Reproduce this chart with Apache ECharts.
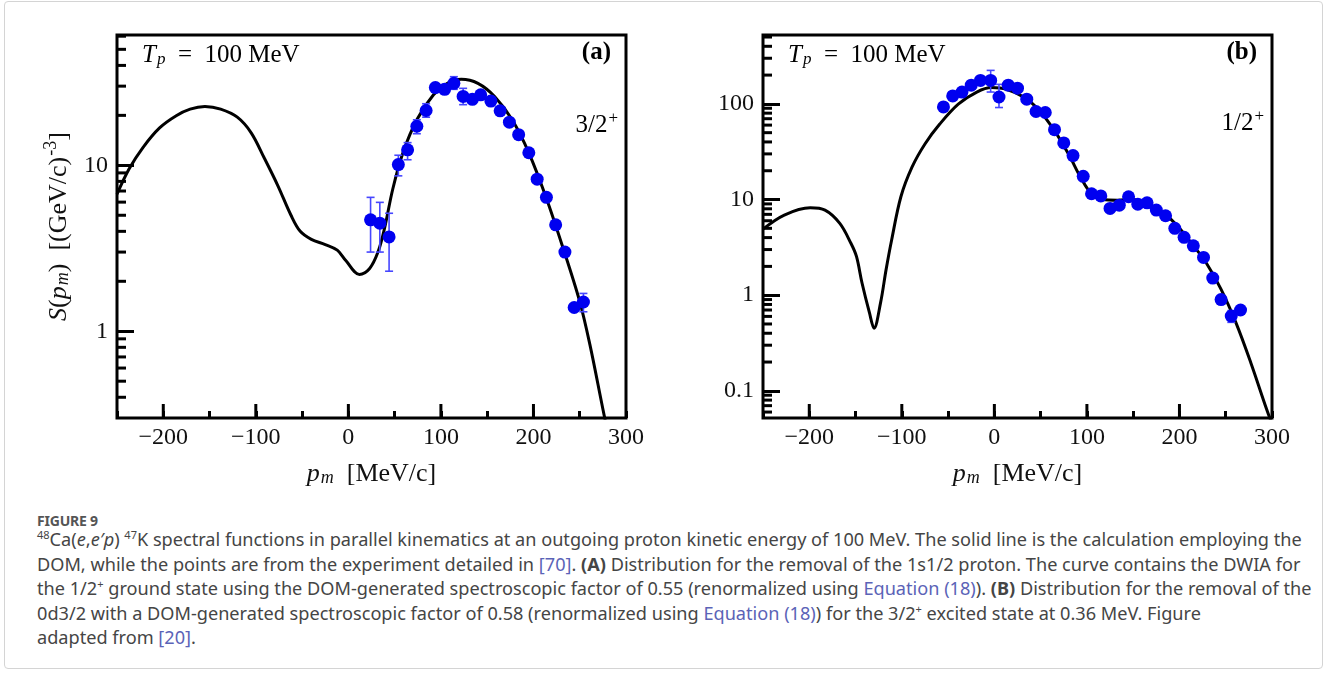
<!DOCTYPE html>
<html><head><meta charset="utf-8">
<script src="https://cdn.jsdelivr.net/npm/echarts@6/dist/echarts.min.js"></script>
<style>
html,body{margin:0;padding:0;background:#fff;width:1328px;height:673px;overflow:hidden;}
#frame{position:absolute;left:4px;top:1px;width:1319px;height:668px;border:1px solid #d4d4d4;border-radius:4px;box-sizing:border-box;}
#chart{position:absolute;left:0;top:0;width:1328px;height:500px;}
#cap{position:absolute;left:37px;top:512px;font-family:'Noto Sans',sans-serif;color:#454545;font-size:18.15px;line-height:24.5px;white-space:nowrap;}
#cap .fig{font-size:14px;font-weight:bold;color:#555;line-height:18px;margin-bottom:-3px;letter-spacing:-0.2px;}
#cap sup{font-size:11px;line-height:0;vertical-align:super;}
#cap .l{color:#5b63b7;}
</style></head>
<body>
<div id="frame"></div>
<div id="chart"></div>
<div id="cap">
<div class="fig">FIGURE 9</div>
<div><sup>48</sup>Ca(<i>e</i>,<i>e′p</i>) <sup>47</sup>K spectral functions in parallel kinematics at an outgoing proton kinetic energy of 100 MeV. The solid line is the calculation employing the<br>DOM, while the points are from the experiment detailed in <span class="l">[70]</span>. <b>(A)</b> Distribution for the removal of the 1s1/2 proton. The curve contains the DWIA for<br>the 1/2<sup>+</sup> ground state using the DOM-generated spectroscopic factor of 0.55 (renormalized using <span class="l">Equation (18)</span>). <b>(B)</b> Distribution for the removal of the<br>0d3/2 with a DOM-generated spectroscopic factor of 0.58 (renormalized using <span class="l">Equation (18)</span>) for the 3/2<sup>+</sup> excited state at 0.36 MeV. Figure<br>adapted from <span class="l">[20]</span>.</div>
</div>
<script>
// ---------------- data ----------------
const X_MIN = -250, X_MAX = 300;
const xMajorTicks = [-200, -100, 0, 100, 200];
const A_YMIN = 0.3, A_YMAX = 61;
const B_YMIN = 0.052, B_YMAX = 525;
const aYMinorTicks = [0.4, 0.5, 0.6, 0.7, 0.8, 0.9, 2, 3, 4, 5, 6, 7, 8, 9, 20, 30, 40, 50, 60];
const bYMinorTicks = [0.06, 0.07, 0.08, 0.09, 0.2, 0.3, 0.4, 0.5, 0.6, 0.7, 0.8, 0.9, 2, 3, 4, 5, 6, 7, 8, 9, 20, 30, 40, 50, 60, 70, 80, 90, 200, 300, 400, 500];

// panel (a): DOM curve
const aCurveX = [-250, -237, -222, -204, -186, -171, -155, -138, -120, -105, -91, -76, -62, -52, -40, -25, -12, -3, 12, 23, 32, 39, 48, 59, 74, 92, 107, 122, 140, 158, 177, 195, 213, 231, 250, 261, 275, 282];
const aCurveY = [6.7, 9.5, 12.8, 16.8, 19.9, 21.8, 22.6, 21.8, 19.5, 15.7, 11.1, 7.5, 5.0, 4.0, 3.58, 3.33, 3.08, 2.68, 2.2, 2.39, 3.0, 4.15, 7.2, 11.9, 18.8, 26.6, 31.2, 33.0, 31.2, 26.0, 18.8, 11.9, 6.56, 3.3, 1.51, 0.83, 0.34, 0.22];
// panel (a): experiment
const aDataX = [24, 34, 44, 54, 64, 74, 84, 94, 104, 114, 124, 134, 143, 154, 164, 174, 184, 195, 204, 214, 224, 234, 244, 254];
const aDataY = [4.69, 4.48, 3.70, 10.1, 12.4, 17.2, 21.4, 29.4, 28.7, 31.2, 26.0, 25.0, 26.6, 24.4, 21.3, 18.2, 15.3, 11.9, 8.25, 6.41, 4.38, 3.0, 1.39, 1.50];
const aErrLo = [3.0, 3.0, 2.30, 8.64, 10.8, 15.5, 19.5, null, 26.9, 28.7, 23.2, null, null, null, null, null, null, null, null, null, null, null, null, 1.31];
const aErrHi = [6.41, 5.98, 5.14, 11.5, 13.7, 18.8, 23.5, null, 30.6, 34.2, 29.1, null, null, null, null, null, null, null, null, null, null, null, null, 1.69];

// panel (b): DOM curve
const bCurveX = [-250, -227, -199, -183, -167, -155, -149, -143, -135, -130, -123, -117, -111, -101, -89, -75, -59, -39, -19, -3, 13, 33, 49, 65, 81, 93, 105, 117, 133, 149, 165, 181, 197, 213, 229, 245, 261, 277, 294, 302];
const bCurveY = [4.9, 6.88, 8.19, 7.75, 5.63, 3.49, 2.54, 1.34, 0.656, 0.451, 0.83, 1.85, 3.78, 10.7, 21.8, 38.1, 61.5, 99.3, 133, 148, 142, 116, 84.5, 52.5, 28.8, 17.2, 11.5, 10.0, 9.84, 10.0, 9.08, 7.45, 5.42, 3.49, 2.17, 1.15, 0.516, 0.198, 0.065, 0.04];
// panel (b): experiment
const bDataX = [-55, -45, -35, -25, -15, -4, 5, 15, 25, 35, 45, 55, 65, 75, 85, 96, 105, 115, 125, 135, 145, 155, 165, 175, 185, 195, 205, 215, 226, 236, 245, 256, 266];
const bDataY = [93, 121, 133, 157, 176, 176, 118, 157, 146, 112, 83.3, 81.3, 53.7, 39.1, 28.8, 17.5, 11.5, 10.9, 8.07, 8.74, 10.7, 8.95, 9.23, 7.75, 6.77, 5.0, 4.03, 3.28, 2.48, 1.51, 0.90, 0.605, 0.70];
const bErrLo = [null, null, null, null, null, 133, 91.6, null, null, null, null, null, null, null, null, null, null, null, null, null, null, null, null, null, null, null, null, null, null, null, null, 0.52, null];
const bErrHi = [null, null, null, null, null, 224, 160, null, null, null, null, null, null, null, null, null, null, null, null, null, null, null, null, null, null, null, null, null, null, null, null, 0.69, null];

// ---------------- styles ----------------
const FONT = 'Liberation Serif';
const BLUE = '#0000f0';
const ERRC = '#4646ff';
const TXT = '#111';
function richSet(fs) {
  const sf = Math.round(fs * 0.68), lh = Math.round(fs * 1.12), pad = Math.round(fs * 0.45);
  return {
    n:   {fontFamily: FONT, fontSize: fs, color: TXT, lineHeight: lh, verticalAlign: 'bottom'},
    it:  {fontFamily: FONT, fontSize: fs, color: TXT, fontStyle: 'italic', lineHeight: lh, verticalAlign: 'bottom'},
    b:   {fontFamily: FONT, fontSize: fs, color: TXT, fontWeight: 'bold', lineHeight: lh, verticalAlign: 'bottom'},
    sub: {fontFamily: FONT, fontSize: sf, color: TXT, fontStyle: 'italic', lineHeight: lh - pad, padding: [pad, 0, 0, 1], verticalAlign: 'bottom'},
    sup: {fontFamily: FONT, fontSize: sf, color: TXT, lineHeight: lh - pad, padding: [0, 0, pad, 1], verticalAlign: 'bottom'}
  };
}
const RICH = richSet(25);
const RICH_NAME = richSet(26);

const zip = (xs, ys) => xs.map((x, i) => [x, ys[i]]);
const errData = (xs, lo, hi) => xs.map((x, i) => [x, lo[i], hi[i]]).filter(d => d[1] != null && d[2] != null);

function xFmt(v) { return (v % 100 === 0) ? String(v).replace('-', '\u2212') : ''; }

function xAxisCfg(g) {
  return {
    gridIndex: g, type: 'value', min: X_MIN, max: X_MAX, interval: 50,
    axisLine: {show: false, onZero: false}, splitLine: {show: false},
    axisTick: {inside: true, length: 7, lineStyle: {color: '#000', width: 3}},
    axisLabel: {formatter: xFmt, color: TXT, fontFamily: FONT, fontSize: 24, margin: 8},
    name: '{it|p}{sub|m}{n|  [MeV/c]}', nameLocation: 'middle', nameGap: 40,
    nameTextStyle: {rich: RICH_NAME}
  };
}
function yAxisCfg(g, mn, mx, withName) {
  const c = {
    gridIndex: g, type: 'log', logBase: 10, min: mn, max: mx,
    axisLine: {show: false, onZero: false}, splitLine: {show: false}, minorTick: {show: false},
    axisTick: {inside: true, length: 17, lineStyle: {color: '#000', width: 3}},
    axisLabel: {showMinLabel: false, showMaxLabel: false, color: TXT, fontFamily: FONT, fontSize: 24, margin: 9,
      formatter: v => String(v)}
  };
  if (withName) {
    c.name = '{it|S}{n|(}{it|p}{sub|m}{n|)  [(GeV/c)}{sup|-3}{n|]}';
    c.nameLocation = 'middle'; c.nameRotate = 90; c.nameGap = 45;
    c.nameTextStyle = {rich: RICH_NAME};
  }
  return c;
}

function yTickSeries(idx, vals) {
  return {
    type: 'custom', xAxisIndex: idx, yAxisIndex: idx, silent: true, z: 6,
    data: vals.map(v => [X_MIN, v]), encode: {x: 0, y: 1},
    renderItem: (p, api) => {
      const c = api.coord([api.value(0), api.value(1)]);
      return {type: 'line', shape: {x1: c[0], y1: c[1], x2: c[0] + 9, y2: c[1]}, style: {stroke: '#000', lineWidth: 3}};
    }
  };
}
function xTickSeries(idx, ymin) {
  return {
    type: 'custom', xAxisIndex: idx, yAxisIndex: idx, silent: true, z: 6,
    data: xMajorTicks.map(v => [v, ymin]), encode: {x: 0, y: 1},
    renderItem: (p, api) => {
      const c = api.coord([api.value(0), api.value(1)]);
      return {type: 'line', shape: {x1: c[0], y1: c[1], x2: c[0], y2: c[1] - 14}, style: {stroke: '#000', lineWidth: 3}};
    }
  };
}
function errSeries(idx, data) {
  return {
    type: 'custom', xAxisIndex: idx, yAxisIndex: idx, silent: true, z: 3,
    data: data, encode: {x: 0, y: [1, 2]},
    renderItem: (p, api) => {
      const x = api.value(0);
      const a = api.coord([x, api.value(2)]), b = api.coord([x, api.value(1)]);
      const st = {stroke: ERRC, lineWidth: 1.6};
      return {type: 'group', children: [
        {type: 'line', shape: {x1: a[0], y1: a[1], x2: b[0], y2: b[1]}, style: st},
        {type: 'line', shape: {x1: a[0] - 4, y1: a[1], x2: a[0] + 4, y2: a[1]}, style: st},
        {type: 'line', shape: {x1: b[0] - 4, y1: b[1], x2: b[0] + 4, y2: b[1]}, style: st}
      ]};
    }
  };
}
function curveSeries(idx, data) {
  return {type: 'line', xAxisIndex: idx, yAxisIndex: idx, data: data, showSymbol: false, smooth: 0.35,
    lineStyle: {color: '#000', width: 3}, z: 2, silent: true, clip: true};
}
function dotSeries(idx, data) {
  return {type: 'scatter', xAxisIndex: idx, yAxisIndex: idx, data: data, symbolSize: 13,
    itemStyle: {color: BLUE, opacity: 1}, z: 4, silent: true};
}

const chart = echarts.init(document.getElementById('chart'), null, {renderer: 'canvas'});
chart.setOption({
  animation: false,
  grid: [
    {left: 117, top: 35, width: 509, height: 383, show: true, borderColor: '#000', borderWidth: 3, backgroundColor: 'transparent'},
    {left: 763, top: 35, width: 509, height: 383, show: true, borderColor: '#000', borderWidth: 3, backgroundColor: 'transparent'}
  ],
  xAxis: [xAxisCfg(0), xAxisCfg(1)],
  yAxis: [yAxisCfg(0, A_YMIN, A_YMAX, true), yAxisCfg(1, B_YMIN, B_YMAX, false)],
  series: [
    curveSeries(0, zip(aCurveX, aCurveY)),
    errSeries(0, errData(aDataX, aErrLo, aErrHi)),
    dotSeries(0, zip(aDataX, aDataY)),
    yTickSeries(0, aYMinorTicks),
    xTickSeries(0, A_YMIN),
    curveSeries(1, zip(bCurveX, bCurveY)),
    errSeries(1, errData(bDataX, bErrLo, bErrHi)),
    dotSeries(1, zip(bDataX, bDataY)),
    yTickSeries(1, bYMinorTicks),
    xTickSeries(1, B_YMIN)
  ],
  graphic: [
    {type: 'text', left: 142, top: 40, style: {text: '{it|T}{sub|p}{n|\u2002=\u2002100 MeV}', rich: RICH}},
    {type: 'text', right: 1328 - 611, top: 40, style: {text: '{b|(a)}', rich: RICH}},
    {type: 'text', right: 1328 - 618, top: 110, style: {text: '{n|3/2}{sup|+}', rich: RICH}},
    {type: 'text', left: 788, top: 40, style: {text: '{it|T}{sub|p}{n|\u2002=\u2002100 MeV}', rich: RICH}},
    {type: 'text', right: 1328 - 1257, top: 40, style: {text: '{b|(b)}', rich: RICH}},
    {type: 'text', right: 1328 - 1264, top: 108, style: {text: '{n|1/2}{sup|+}', rich: RICH}}
  ]
});
</script>
</body></html>
